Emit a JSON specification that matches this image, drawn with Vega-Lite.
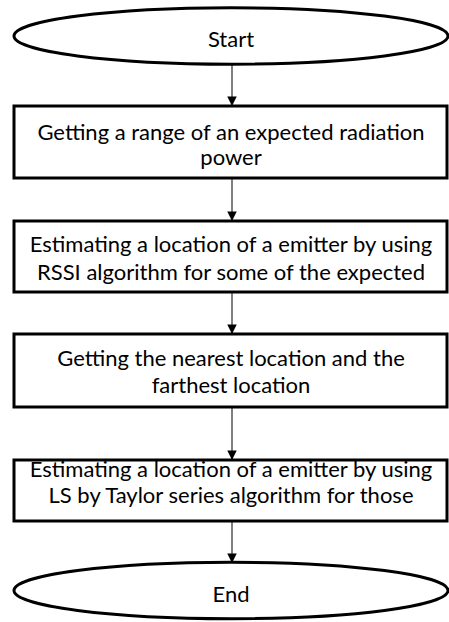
{
  "$schema": "https://vega.github.io/schema/vega-lite/v6.json",
  "width": 449,
  "height": 622,
  "padding": 0,
  "autosize": {"type": "none"},
  "background": "white",
  "config": {"view": {"stroke": null}},
  "datasets": {
    "boxes": [
      {"x": 14, "x2": 447, "y": 106, "y2": 178},
      {"x": 14, "x2": 447, "y": 221, "y2": 292},
      {"x": 14, "x2": 447, "y": 334, "y2": 407},
      {"x": 14, "x2": 447, "y": 460, "y2": 521}
    ],
    "ovals": [
      {"x": 231, "y": 36},
      {"x": 231, "y": 590.5}
    ],
    "arrows": [
      {"x": 232, "y": 65, "y2": 106},
      {"x": 232, "y": 178, "y2": 221},
      {"x": 232, "y": 292, "y2": 334},
      {"x": 232, "y": 407, "y2": 460},
      {"x": 232, "y": 521, "y2": 563}
    ],
    "labels": [
      {"x": 231, "y": 39.5, "text": "Start"},
      {"x": 231, "y": 132.5, "text": "Getting a range of an expected radiation"},
      {"x": 231, "y": 158, "text": "power"},
      {"x": 231, "y": 244.5, "text": "Estimating a location of a emitter by using"},
      {"x": 231, "y": 272.5, "text": "RSSI algorithm for some of the expected"},
      {"x": 231, "y": 358.5, "text": "Getting the nearest location and the"},
      {"x": 231, "y": 385.5, "text": "farthest location"},
      {"x": 231, "y": 470, "text": "Estimating a location of a emitter by using"},
      {"x": 231, "y": 496, "text": "LS by Taylor series algorithm for those"},
      {"x": 231, "y": 595, "text": "End"}
    ]
  },
  "layer": [
    {
      "data": {"name": "arrows"},
      "mark": {"type": "rule", "color": "#555555", "strokeWidth": 1.5},
      "encoding": {
        "x": {"field": "x", "type": "quantitative", "scale": {"domain": [0, 449]}, "axis": null},
        "y": {"field": "y", "type": "quantitative", "scale": {"domain": [0, 622], "reverse": true}, "axis": null},
        "y2": {"field": "y2"}
      }
    },
    {
      "data": {"name": "boxes"},
      "mark": {"type": "rect", "fill": "white", "stroke": "black", "strokeWidth": 3},
      "encoding": {
        "x": {"field": "x", "type": "quantitative", "scale": {"domain": [0, 449]}, "axis": null},
        "x2": {"field": "x2"},
        "y": {"field": "y", "type": "quantitative", "scale": {"domain": [0, 622], "reverse": true}, "axis": null},
        "y2": {"field": "y2"}
      }
    },
    {
      "data": {"name": "ovals"},
      "mark": {"type": "point", "filled": false, "fill": "white", "fillOpacity": 1, "stroke": "black", "strokeWidth": 3, "opacity": 1, "size": 188356,
        "shape": "M-1,0C-1,-0.0718,-0.5523,-0.13,0,-0.13C0.5523,-0.13,1,-0.0718,1,0C1,0.0718,0.5523,0.13,0,0.13C-0.5523,0.13,-1,0.0718,-1,0Z"},
      "encoding": {
        "x": {"field": "x", "type": "quantitative", "scale": {"domain": [0, 449]}, "axis": null},
        "y": {"field": "y", "type": "quantitative", "scale": {"domain": [0, 622], "reverse": true}, "axis": null}
      }
    },
    {
      "data": {"name": "arrows"},
      "mark": {"type": "point", "filled": true, "color": "black", "opacity": 1, "size": 90, "shape": "M-1,-2L1,-2L0,0Z"},
      "encoding": {
        "x": {"field": "x", "type": "quantitative", "scale": {"domain": [0, 449]}, "axis": null},
        "y": {"field": "y2", "type": "quantitative", "scale": {"domain": [0, 622], "reverse": true}, "axis": null}
      }
    },
    {
      "data": {"name": "labels"},
      "mark": {"type": "text", "font": "Lato", "fontSize": 22, "color": "black", "align": "center", "baseline": "middle"},
      "encoding": {
        "x": {"field": "x", "type": "quantitative", "scale": {"domain": [0, 449]}, "axis": null},
        "y": {"field": "y", "type": "quantitative", "scale": {"domain": [0, 622], "reverse": true}, "axis": null},
        "text": {"field": "text"}
      }
    }
  ]
}
